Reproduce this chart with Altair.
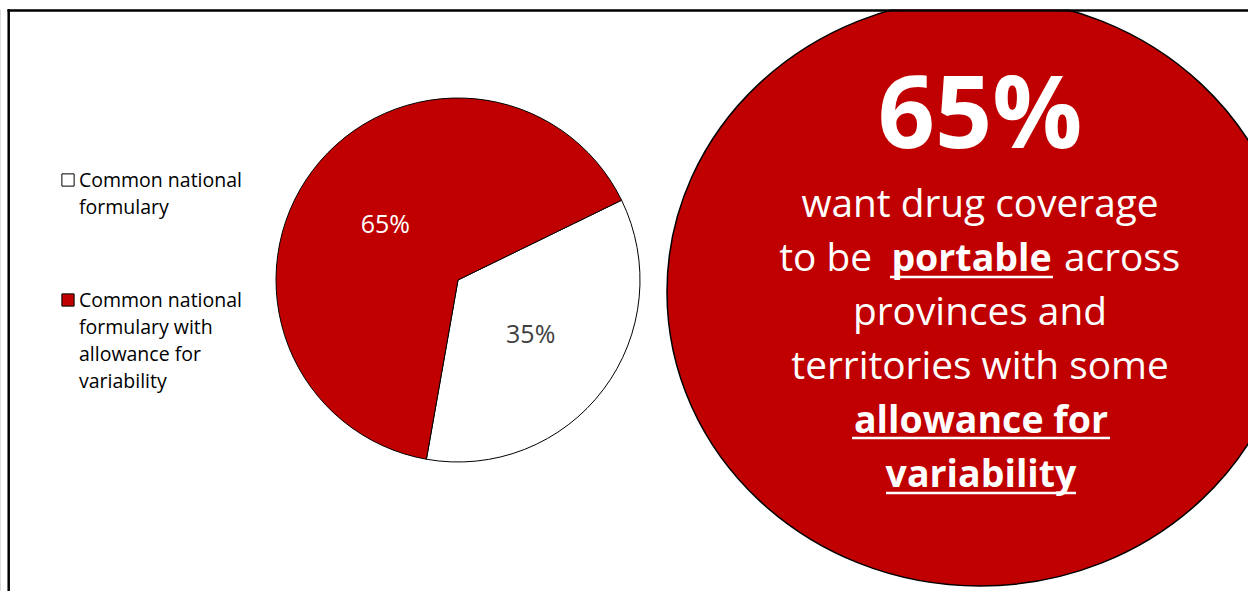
import math
import altair as alt
import pandas as pd

# ---------------- data ----------------
categories = [
    "Common national formulary",
    "Common national formulary with allowance for variability",
]
shares = [35, 65]
pie_labels = ["35%", "65%"]
legend_lines = [
    ["Common national", "formulary"],
    ["Common national", "formulary with", "allowance for", "variability"],
]
headline = "65%"
callout_plain_1 = "want drug coverage"
callout_l2 = ["to be", "portable", "across"]
callout_plain_3 = "provinces and"
callout_plain_4 = "territories with some"
callout_bold = ["allowance for", "variability"]

# ---------------- style ----------------
W, H = 1248, 591
RED = "#C00000"
FONT = "Open Sans"
one = alt.Data(values=[{"k": 0}])

layers = []

# big ellipse (callout bubble)
rx, ry = 313.0, 294.0
e = ry / rx
k = 0.5523
path = (
    f"M -1 0 C -1 {-k*e:.4f} {-k:.4f} {-e:.4f} 0 {-e:.4f} "
    f"C {k:.4f} {-e:.4f} 1 {-k*e:.4f} 1 0 "
    f"C 1 {k*e:.4f} {k:.4f} {e:.4f} 0 {e:.4f} "
    f"C {-k:.4f} {e:.4f} -1 {k*e:.4f} -1 0 Z"
)
layers.append(
    alt.Chart(one).mark_point(
        shape=path, size=(2 * rx) ** 2, filled=True, fill=RED, fillOpacity=1,
        stroke="black", strokeWidth=1.5, strokeOpacity=1, opacity=1,
    ).encode(x=alt.value(980), y=alt.value(292))
)

# white mask above the frame
layers.append(
    alt.Chart(one).mark_rect(color="white").encode(
        x=alt.value(0), x2=alt.value(W), y=alt.value(0), y2=alt.value(9.5)
    )
)
# frame lines
layers.append(
    alt.Chart(one).mark_rule(color="black", strokeWidth=2.5).encode(
        x=alt.value(7.5), x2=alt.value(W), y=alt.value(10.5)
    )
)
layers.append(
    alt.Chart(one).mark_rule(color="black", strokeWidth=2.5).encode(
        x=alt.value(8.7), y=alt.value(9.3), y2=alt.value(H)
    )
)

# pie
pie_df = pd.DataFrame(
    {"category": categories, "share": shares, "label": pie_labels, "ord": [0, 1]}
)
start = math.radians(64)
theta = alt.Theta(
    "share:Q", stack=True, scale=alt.Scale(range=[start, start + 2 * math.pi])
)
cx, cy = 458, 280
layers.append(
    alt.Chart(pie_df).mark_arc(radius=182, stroke="black", strokeWidth=1).encode(
        theta=theta,
        order=alt.Order("ord:Q"),
        color=alt.Color(
            "category:N",
            scale=alt.Scale(domain=categories, range=["white", RED]),
            legend=None,
        ),
        x=alt.value(cx),
        y=alt.value(cy),
    )
)
layers.append(
    alt.Chart(pie_df).mark_text(radius=91, fontSize=25, font=FONT).encode(
        theta=theta,
        order=alt.Order("ord:Q"),
        text="label:N",
        color=alt.condition(
            alt.datum.category == categories[1], alt.value("white"), alt.value("#404040")
        ),
        x=alt.value(cx),
        y=alt.value(cy),
    )
)

# legend
for i, (lines, fill, yb) in enumerate(zip(legend_lines, ["white", RED], [187, 307])):
    layers.append(
        alt.Chart(one).mark_square(
            size=150, filled=True, fill=fill, stroke="black", strokeWidth=1, opacity=1
        ).encode(x=alt.value(68), y=alt.value(yb - 7))
    )
    layers.append(
        alt.Chart(one).mark_text(
            align="left", baseline="alphabetic", fontSize=19.5, lineHeight=27,
            font=FONT, color="black",
        ).encode(x=alt.value(79), y=alt.value(yb), text=alt.value(lines))
    )

# callout texts
def txt(s, x, y, size=38.8, weight="normal", align="center"):
    return alt.Chart(one).mark_text(
        align=align, baseline="alphabetic", fontSize=size, fontWeight=weight,
        font=FONT, color="white",
    ).encode(x=alt.value(x), y=alt.value(y), text=alt.value(s))

def uline(x1, x2, y):
    return alt.Chart(one).mark_rule(color="white", strokeWidth=2.5).encode(
        x=alt.value(x1), x2=alt.value(x2), y=alt.value(y)
    )

layers.append(txt(headline, 980, 148, size=100, weight="bold"))
layers.append(txt(callout_plain_1, 980, 217))
layers.append(txt(callout_l2[0], 872, 271, align="right"))
layers.append(txt(callout_l2[1], 971.5, 271, size=37.5, weight="bold"))
layers.append(txt(callout_l2[2], 1064, 271, align="left"))
layers.append(uline(890, 1053, 277))
layers.append(txt(callout_plain_3, 980, 325))
layers.append(txt(callout_plain_4, 980, 379))
layers.append(txt(callout_bold[0], 981, 433, size=37.5, weight="bold"))
layers.append(uline(852, 1110, 438))
layers.append(txt(callout_bold[1], 981, 487, size=37.5, weight="bold"))
layers.append(uline(886, 1076, 493))

chart = alt.layer(*layers).properties(
    width=W, height=H, autosize=alt.AutoSizeParams(type="none"), padding=0
).configure_view(stroke=None).configure(background="white")

chart.save("out.html", embed_options={"renderer": "svg", "actions": False})
